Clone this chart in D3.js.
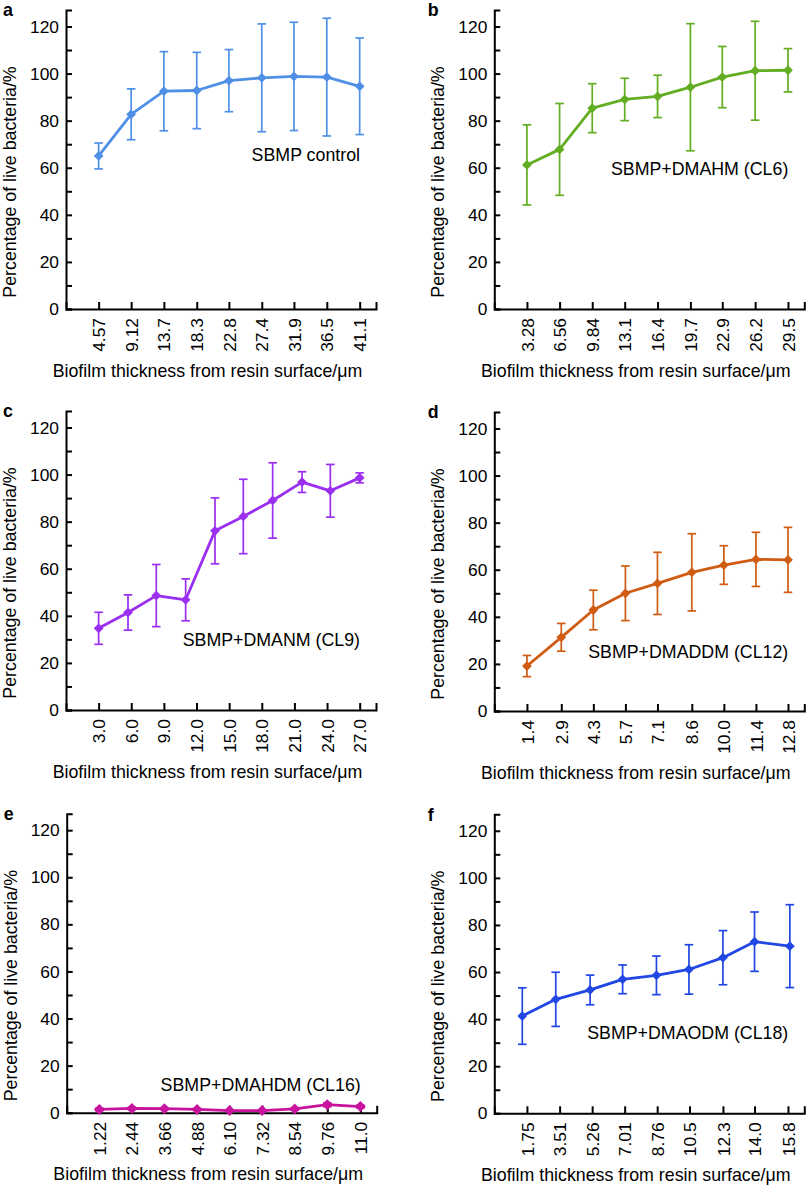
<!DOCTYPE html>
<html>
<head>
<meta charset="utf-8">
<script src="https://cdn.jsdelivr.net/npm/d3@7"></script>
<style>
  body { margin: 0; background: #fff; }
  svg { font-family: "Liberation Sans", Arial, sans-serif; }
</style>
</head>
<body>
<div id="chart"></div>
<script>
// Data: mean % live bacteria and SD per biofilm depth

const ticksA = ["4.57", "9.12", "13.7", "18.3", "22.8", "27.4", "31.9", "36.5", "41.1"];
const meanA = [65.0, 82.7, 92.5, 92.8, 97.0, 98.2, 98.8, 98.5, 94.6];
const sdA = [5.5, 10.8, 16.8, 16.2, 13.2, 22.9, 23.0, 25.0, 20.5];

const ticksB = ["3.28", "6.56", "9.84", "13.1", "16.4", "19.7", "22.9", "26.2", "29.5"];
const meanB = [61.2, 67.8, 85.3, 89.0, 90.3, 94.2, 98.5, 101.2, 101.4];
const sdB = [17.0, 19.5, 10.4, 9.0, 9.0, 27.0, 13.0, 21.0, 9.2];

const ticksC = ["3.0", "6.0", "9.0", "12.0", "15.0", "18.0", "21.0", "24.0", "27.0"];
const xC = [3.0, 5.7, 8.3, 11.0, 13.7, 16.3, 19.0, 21.7, 24.3, 27.0];
const meanC = [34.7, 41.4, 48.6, 46.8, 76.1, 82.2, 89.0, 96.8, 93.1, 98.6];
const sdC = [6.8, 7.5, 13.2, 8.9, 14.0, 15.8, 16.0, 4.4, 11.2, 2.1];

const ticksD = ["1.4", "2.9", "4.3", "5.7", "7.1", "8.6", "10.0", "11.4", "12.8"];
const meanD = [19.1, 31.3, 42.9, 50.0, 54.2, 58.9, 62.0, 64.4, 64.2];
const sdD = [4.5, 5.9, 8.4, 11.6, 13.2, 16.4, 8.2, 11.5, 13.8];

const ticksE = ["1.22", "2.44", "3.66", "4.88", "6.10", "7.32", "8.54", "9.76", "11.0"];
const meanE = [1.4, 1.8, 1.7, 1.4, 0.9, 0.9, 1.6, 3.4, 2.6];
const sdE = [0.5, 0.5, 0.4, 0.4, 0.3, 0.3, 0.5, 0.8, 0.6];

const ticksF = ["1.75", "3.51", "5.26", "7.01", "8.76", "10.5", "12.3", "14.0", "15.8"];
const xF = [1.5, 3.3, 5.15, 6.9, 8.72, 10.47, 12.3, 14.0, 15.9];
const meanF = [41.3, 48.4, 52.4, 56.9, 58.6, 61.1, 66.1, 72.9, 71.0];
const sdF = [12.0, 11.5, 6.3, 6.1, 8.2, 10.5, 11.5, 12.6, 17.6];

const yTicks = [0, 20, 40, 60, 80, 100, 120];

// layout per panel
const panels = [
  { letter: "a", axisX: 66, y0: 309, color: "#4f90e6", ticks: ticksA, xs: ticksA.map(Number), mean: meanA, sd: sdA, name: "SBMP control", nameY: 63 },
  { letter: "b", axisX: 494.3, y0: 309, color: "#62ad22", ticks: ticksB, xs: ticksB.map(Number), mean: meanB, sd: sdB, name: "SBMP+DMAHM (CL6)", nameY: 57 },
  { letter: "c", axisX: 66, y0: 710, color: "#9b2ff0", ticks: ticksC, xs: xC, mean: meanC, sd: sdC, name: "SBMP+DMANM (CL9)", nameY: 27.2 },
  { letter: "d", axisX: 494.3, y0: 711, color: "#cf5c12", ticks: ticksD, xs: ticksD.map(Number), mean: meanD, sd: sdD, name: "SBMP+DMADDM (CL12)", nameY: 22.7 },
  { letter: "e", axisX: 66.7, y0: 1112.7, color: "#c8139e", ticks: ticksE, xs: ticksE.map(Number), mean: meanE, sd: sdE, name: "SBMP+DMAHDM (CL16)", nameY: 9.2 },
  { letter: "f", axisX: 494.3, y0: 1113.3, color: "#2046e4", ticks: ticksF, xs: xF, mean: meanF, sd: sdF, name: "SBMP+DMAODM (CL18)", nameY: 31.4 },
];

const plotW = 310;
const fontSize = 17.8;
const tickFont = 17.4;

const svg = d3
  .select("#chart")
  .append("svg")
  .attr("width", 812)
  .attr("height", 1186);

panels.forEach((p) => {
  const g = svg.append("g").attr("transform", `translate(${p.axisX},${p.y0})`);

  const first = +p.ticks[0];
  const last = +p.ticks[p.ticks.length - 1];
  const step = (last - first) / (p.ticks.length - 1);

  const x = d3.scaleLinear().domain([first - step, last + step / 2]).range([0, plotW]);
  const y = d3.scaleLinear().domain([0, 127]).range([0, -299]);

  // y axis, inward ticks every 10, labels every 20
  g.append("g")
    .call(
      d3
        .axisLeft(y)
        .tickValues(d3.range(0, 121, 10))
        .tickSizeInner(-6)
        .tickSizeOuter(-6)
        .tickPadding(7)
        .tickFormat((d) => (yTicks.includes(d) ? d : ""))
    )
    .call((a) => a.attr("font-family", null).attr("font-size", tickFont))
    .call((a) => a.select(".domain").attr("stroke-width", 2).attr("stroke", "#000"))
    .call((a) => a.selectAll(".tick line").attr("stroke-width", 2).attr("stroke", "#000"))
    .call((a) => a.selectAll(".tick text").attr("fill", "#000"));

  // x axis, inward ticks, rotated labels
  g.append("g")
    .call(
      d3
        .axisBottom(x)
        .tickValues(p.ticks.map(Number))
        .tickFormat((d, i) => p.ticks[i])
        .tickSizeInner(-7)
        .tickSizeOuter(-7)
    )
    .call((a) => a.attr("font-family", null).attr("font-size", tickFont))
    .call((a) => a.select(".domain").attr("stroke-width", 2).attr("stroke", "#000"))
    .call((a) => a.selectAll(".tick line").attr("stroke-width", 2).attr("stroke", "#000"))
    .call((a) =>
      a
        .selectAll(".tick text")
        .attr("fill", "#000")
        .attr("transform", "rotate(-90)")
        .attr("x", -9)
        .attr("y", 0)
        .attr("dy", "0.35em")
        .attr("text-anchor", "end")
    );

  const pts = p.xs.map((v, i) => ({ x: v, m: p.mean[i], sd: p.sd[i] }));

  // error bars
  const err = g.append("g").attr("stroke", p.color).attr("stroke-width", 1.7);
  pts.forEach((d) => {
    const cx = x(d.x);
    err.append("line")
      .attr("x1", cx).attr("x2", cx)
      .attr("y1", y(d.m - d.sd)).attr("y2", y(d.m + d.sd));
    [d.m - d.sd, d.m + d.sd].forEach((v) => {
      err.append("line")
        .attr("x1", cx - 4.3).attr("x2", cx + 4.3)
        .attr("y1", y(v)).attr("y2", y(v));
    });
  });

  // line
  const line = d3.line().x((d) => x(d.x)).y((d) => y(d.m));
  g.append("path")
    .datum(pts)
    .attr("fill", "none")
    .attr("stroke", p.color)
    .attr("stroke-width", 2.8)
    .attr("stroke-linejoin", "round")
    .attr("d", line);

  // diamond markers
  const symbol = d3.symbol().type(d3.symbolSquare).size(p.letter === "e" ? 60 : 48);
  g.append("g")
    .selectAll("path")
    .data(pts)
    .join("path")
    .attr("d", symbol)
    .attr("fill", p.color)
    .attr("transform", (d) => `translate(${x(d.x)},${y(d.m)}) rotate(45)`);

  // series name
  g.append("text")
    .attr("x", 294)
    .attr("y", y(p.nameY))
    .attr("text-anchor", "end")
    .attr("font-size", fontSize)
    .attr("fill", "#000")
    .text(p.name);

  // axis titles
  g.append("text")
    .attr("transform", "translate(-50,-127) rotate(-90)")
    .attr("text-anchor", "middle")
    .attr("font-size", fontSize)
    .attr("fill", "#000")
    .text("Percentage of live bacteria/%");

  g.append("text")
    .attr("x", 141.5)
    .attr("y", 67.7)
    .attr("text-anchor", "middle")
    .attr("font-size", fontSize)
    .attr("fill", "#000")
    .text("Biofilm thickness from resin surface/\u03bcm");

  // panel letter
  g.append("text")
    .attr("x", p.axisX < 200 ? -63 : -66.6)
    .attr("y", -292.7)
    .attr("font-size", fontSize)
    .attr("font-weight", "bold")
    .attr("fill", "#000")
    .text(p.letter);
});
</script>
</body>
</html>
